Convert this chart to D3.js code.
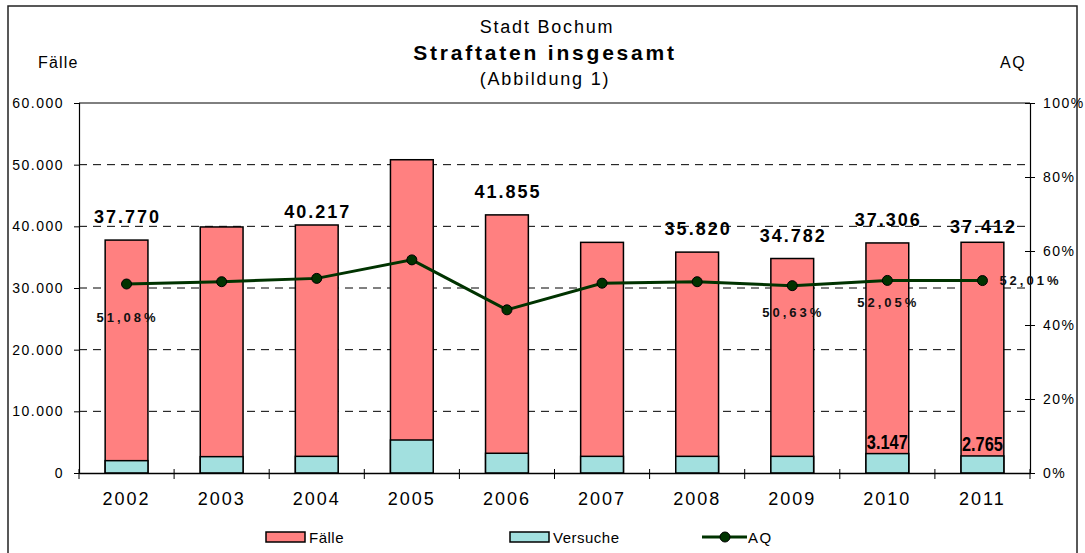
<!DOCTYPE html>
<html>
<head>
<meta charset="utf-8">
<script src="https://cdn.jsdelivr.net/npm/d3@7"></script>
<style>
  body { margin: 0; background: #fff; }
  text { font-family: "Liberation Sans", Arial, sans-serif; }
</style>
</head>
<body>
<div id="chart"></div>
<script>
// Data
const years = ["2002", "2003", "2004", "2005", "2006", "2007", "2008", "2009", "2010", "2011"];
const faelle = [37770, 39900, 40217, 50800, 41855, 37400, 35820, 34782, 37306, 37412];
const versuche = [2000, 2650, 2700, 5350, 3200, 2700, 2700, 2700, 3147, 2765];
const aq = [51.08, 51.7, 52.6, 57.6, 44.1, 51.3, 51.7, 50.63, 52.05, 52.01];
const leftTicks = [0, 10000, 20000, 30000, 40000, 50000, 60000];
const rightTicks = [0, 20, 40, 60, 80, 100];
// which labels are shown
const faelleLabelYears = ["2002", "2004", "2006", "2008", "2009", "2010", "2011"];
const versucheLabelYears = ["2010", "2011"];
const aqLabelYears = ["2002", "2009", "2010", "2011"];

// manual label placement (as in the original sheet)
const faelleLabelGap = { "2004": 7, "2011": 9 };           // default 17
const aqLabelShift = { "2002": [0, 38], "2009": [0, 31], "2010": [0, 27], "2011": [47, 4] };

const W = 1085, H = 553;
const margin = { top: 103, right: 55, bottom: 80, left: 79 };

const fmtNum = d => d3.format(",")(d).replace(/,/g, ".");
const fmtPct = d => d.toFixed(2).replace(".", ",") + "%";

const svg = d3.select("#chart").append("svg")
  .attr("width", W).attr("height", H);

// outer frame
svg.append("rect")
  .attr("x", 8).attr("y", 6).attr("width", 1069).attr("height", 560)
  .attr("fill", "none").attr("stroke", "#222").attr("stroke-width", 1.5);

const x = d3.scaleBand()
  .domain(years)
  .range([margin.left, W - margin.right])
  .paddingInner(0.55)
  .paddingOuter(0.275);

const y = d3.scaleLinear()
  .domain([0, 60000])
  .range([H - margin.bottom, margin.top]);

const y2 = d3.scaleLinear()
  .domain([0, 100])
  .range([H - margin.bottom, margin.top]);

const x0 = margin.left, x1 = W - margin.right;

// dashed gridlines
svg.append("g")
  .selectAll("line")
  .data(leftTicks.filter(d => d > 0 && d < 60000))
  .enter().append("line")
    .attr("x1", x0).attr("x2", x1)
    .attr("y1", d => y(d)).attr("y2", d => y(d))
    .attr("stroke", "#000").attr("stroke-width", 1)
    .attr("stroke-dasharray", "8,6");

// top border line of plot
svg.append("line")
  .attr("x1", x0).attr("x2", x1)
  .attr("y1", y(60000)).attr("y2", y(60000))
  .attr("stroke", "#000").attr("stroke-width", 1);

// Faelle bars
svg.append("g")
  .selectAll("rect")
  .data(years)
  .enter().append("rect")
    .attr("x", d => x(d))
    .attr("y", (d, i) => y(faelle[i]))
    .attr("width", x.bandwidth())
    .attr("height", (d, i) => y(0) - y(faelle[i]))
    .attr("fill", "#FF8080")
    .attr("stroke", "#000").attr("stroke-width", 1.5);

// Versuche bars
svg.append("g")
  .selectAll("rect")
  .data(years)
  .enter().append("rect")
    .attr("x", d => x(d))
    .attr("y", (d, i) => y(versuche[i]))
    .attr("width", x.bandwidth())
    .attr("height", (d, i) => y(0) - y(versuche[i]))
    .attr("fill", "#A2E0DF")
    .attr("stroke", "#000").attr("stroke-width", 1.5);

// left axis
const leftAxis = svg.append("g")
  .attr("transform", `translate(${x0},0)`)
  .call(d3.axisLeft(y).tickValues(leftTicks).tickFormat(d => d === 0 ? "0" : fmtNum(d)).tickSize(5).tickPadding(10));
leftAxis.select(".domain").attr("stroke", "#000").attr("stroke-width", 1.2);
leftAxis.selectAll("text")
  .style("font-size", "14px").style("letter-spacing", "1.5px").attr("fill", "#000");

// right axis
const rightAxis = svg.append("g")
  .attr("transform", `translate(${x1},0)`)
  .call(d3.axisRight(y2).tickValues(rightTicks).tickFormat(d => d + "%").tickSize(5).tickPadding(8));
rightAxis.select(".domain").attr("stroke", "#000").attr("stroke-width", 1.2);
rightAxis.selectAll(".tick line").attr("x1", -5);
rightAxis.selectAll("text")
  .style("font-size", "14px").style("letter-spacing", "1.5px").attr("fill", "#000");

// bottom axis
const bottomAxis = svg.append("g")
  .attr("transform", `translate(0,${y(0)})`)
  .call(d3.axisBottom(x).tickSize(0).tickPadding(19));
bottomAxis.select(".domain").attr("stroke", "#000").attr("stroke-width", 1.5);
bottomAxis.selectAll("text")
  .style("font-size", "18px").style("letter-spacing", "2px").attr("fill", "#000");

// category separator ticks
const step = x.step();
svg.append("g")
  .selectAll("line")
  .data(d3.range(years.length + 1))
  .enter().append("line")
    .attr("x1", k => x0 + k * step).attr("x2", k => x0 + k * step)
    .attr("y1", y(0) - 4).attr("y2", y(0) + 6)
    .attr("stroke", "#000").attr("stroke-width", 1);

// AQ line
const cx = d => x(d) + x.bandwidth() / 2;
svg.append("path")
  .datum(years)
  .attr("fill", "none")
  .attr("stroke", "#003300")
  .attr("stroke-width", 3)
  .attr("d", d3.line().x(d => cx(d)).y((d, i) => y2(aq[i])));

svg.append("g")
  .selectAll("circle")
  .data(years)
  .enter().append("circle")
    .attr("cx", d => cx(d))
    .attr("cy", (d, i) => y2(aq[i]))
    .attr("r", 5)
    .attr("fill", "#003300")
    .attr("stroke", "#000").attr("stroke-width", 1);

// Faelle labels
svg.append("g")
  .selectAll("text")
  .data(years.filter(d => faelleLabelYears.includes(d)))
  .enter().append("text")
    .attr("x", d => cx(d) + 1)
    .attr("y", d => y(faelle[years.indexOf(d)]) - (faelleLabelGap[d] || 17))
    .attr("text-anchor", "middle")
    .style("font-size", "18px").style("font-weight", "bold").style("letter-spacing", "2px")
    .text(d => fmtNum(faelle[years.indexOf(d)]));

// Versuche labels (narrow bold)
svg.append("g")
  .selectAll("text")
  .data(years.filter(d => versucheLabelYears.includes(d)))
  .enter().append("text")
    .attr("x", d => cx(d))
    .attr("y", d => y(versuche[years.indexOf(d)]) - 5)
    .attr("text-anchor", "middle")
    .style("font-size", "21px").style("font-weight", "bold")
    .attr("transform", d => `translate(${cx(d)},0) scale(0.78,1) translate(${-cx(d)},0)`)
    .text(d => fmtNum(versuche[years.indexOf(d)]));

// AQ labels
svg.append("g")
  .selectAll("text")
  .data(years.filter(d => aqLabelYears.includes(d)))
  .enter().append("text")
    .attr("x", d => cx(d) + aqLabelShift[d][0] + 1)
    .attr("y", d => y2(aq[years.indexOf(d)]) + aqLabelShift[d][1])
    .attr("text-anchor", "middle")
    .style("font-size", "13px").style("font-weight", "bold").style("letter-spacing", "3px")
    .attr("fill", "#111")
    .text(d => fmtPct(aq[years.indexOf(d)]));

// Titles
svg.append("text").attr("x", 547).attr("y", 33).attr("text-anchor", "middle")
  .style("font-size", "18px").style("letter-spacing", "1.8px").text("Stadt Bochum");
svg.append("text").attr("x", 545).attr("y", 60).attr("text-anchor", "middle")
  .style("font-size", "21px").style("font-weight", "bold").style("letter-spacing", "2.8px")
  .text("Straftaten insgesamt");
svg.append("text").attr("x", 545).attr("y", 85).attr("text-anchor", "middle")
  .style("font-size", "18px").style("letter-spacing", "1.8px").text("(Abbildung 1)");
svg.append("text").attr("x", 38).attr("y", 68)
  .style("font-size", "16px").style("letter-spacing", "1.2px").text("Fälle");
svg.append("text").attr("x", 1000).attr("y", 68)
  .style("font-size", "16px").style("letter-spacing", "1.5px").text("AQ");

// Legend
const legend = svg.append("g").attr("transform", "translate(0,537)");
const legItems = [
  { name: "Fälle", fill: "#FF8080", x: 266 },
  { name: "Versuche", fill: "#A2E0DF", x: 510 }
];
legend.selectAll("rect")
  .data(legItems)
  .enter().append("rect")
    .attr("x", d => d.x).attr("y", -5)
    .attr("width", 39).attr("height", 10)
    .attr("fill", d => d.fill)
    .attr("stroke", "#000").attr("stroke-width", 1.5);
legend.selectAll("text.leg")
  .data(legItems)
  .enter().append("text")
    .attr("class", "leg")
    .attr("x", d => d.x + 43).attr("y", 6)
    .style("font-size", "15px").style("letter-spacing", "0.5px")
    .text(d => d.name);
legend.append("line")
  .attr("x1", 702).attr("x2", 747).attr("y1", 0).attr("y2", 0)
  .attr("stroke", "#003300").attr("stroke-width", 3);
legend.append("circle")
  .attr("cx", 725).attr("cy", 0).attr("r", 5)
  .attr("fill", "#003300").attr("stroke", "#000");
legend.append("text")
  .attr("x", 748).attr("y", 6)
  .style("font-size", "15px").style("letter-spacing", "1.5px")
  .text("AQ");
</script>
</body>
</html>
